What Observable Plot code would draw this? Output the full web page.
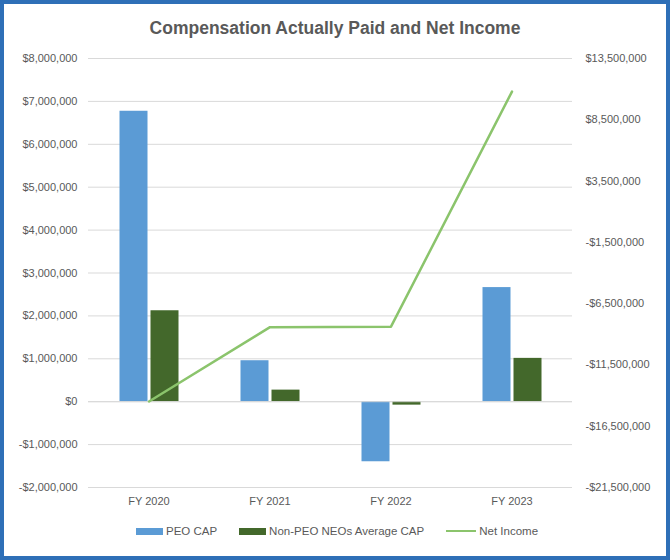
<!DOCTYPE html>
<html>
<head>
<meta charset="utf-8">
<script src="https://cdn.jsdelivr.net/npm/d3@7"></script>
<script src="https://cdn.jsdelivr.net/npm/@observablehq/plot@0.6"></script>
<style>
  body { margin: 0; background: #fff; }
  #wrap { position: relative; width: 670px; height: 560px; overflow: hidden; background: #fff; font-family: "Liberation Sans", Arial, sans-serif; }
  #frame { position: absolute; left: 0; top: 0; width: 670px; height: 560px; box-sizing: border-box; border: 4px solid #2E6FB7; pointer-events: none; }
  #title { position: absolute; top: 18px; left: 0; width: 670px; text-align: center; font-weight: bold; font-size: 17.5px; color: #595959; }
  #chart { position: absolute; left: 0; top: 0; }
  #legend { position: absolute; top: 525px; left: 0; width: 670px; display: flex; justify-content: center; gap: 22px; font-size: 11.5px; color: #595959; padding-left: 4px; box-sizing: border-box; }
  .item { display: flex; align-items: center; gap: 3px; }
  .sw { display: inline-block; width: 27px; height: 7px; }
  .ln { display: inline-block; width: 30px; height: 2.5px; }
</style>
</head>
<body>
<div id="wrap">
  <div id="chart"></div>
  <div id="title">Compensation Actually Paid and Net Income</div>
  <div id="legend"></div>
  <div id="frame"></div>
</div>
<script>
const years = ["FY 2020", "FY 2021", "FY 2022", "FY 2023"];
const peoCap = [6770000, 955000, -1400000, 2660000];
const nonPeoCap = [2120000, 270000, -80000, 1010000];
const netIncome = [-14480000, -8420000, -8380000, 10800000];
const leftTicks = [-2000000, -1000000, 0, 1000000, 2000000, 3000000, 4000000, 5000000, 6000000, 7000000, 8000000];
const rightTicks = [-21500000, -16500000, -11500000, -6500000, -1500000, 3500000, 8500000, 13500000];
const seriesNames = ["PEO CAP", "Non-PEO NEOs Average CAP", "Net Income"];
const colors = ["#5B9BD5", "#43682B", "#8BC46C"];

// map right axis domain [-21.5M, 13.5M] onto left axis domain [-2M, 8M]
const L0 = -2000000, L1 = 8000000, R0 = -21500000, R1 = 13500000;
const toLeft = v => L0 + (v - R0) * (L1 - L0) / (R1 - R0);
const fromLeft = v => R0 + (v - L0) * (R1 - R0) / (L1 - L0);
const money = v => (v < 0 ? "-" : "") + "$" + d3.format(",")(Math.abs(Math.round(v / 1000) * 1000));

const peoData = years.map((y, i) => ({year: y, value: peoCap[i]}));
const nonData = years.map((y, i) => ({year: y, value: nonPeoCap[i]}));
const niData = years.map((y, i) => ({year: y, value: toLeft(netIncome[i])}));

const chart = Plot.plot({
  width: 670,
  height: 515,
  marginTop: 58,
  marginBottom: 28,
  marginLeft: 88,
  marginRight: 98,
  style: {fontFamily: "Liberation Sans, Arial, sans-serif", fontSize: "11px", color: "#595959", background: "transparent"},
  x: {domain: years, padding: 0, label: null},
  y: {domain: [L0, L1], label: null},
  marks: [
    Plot.gridY(leftTicks, {stroke: "#D9D9D9", strokeOpacity: 1}),
    Plot.axisY(leftTicks, {tickSize: 0, tickPadding: 11, tickFormat: money, label: null, fill: "#595959"}),
    Plot.axisY(rightTicks.map(toLeft), {anchor: "right", tickSize: 0, tickPadding: 13, tickFormat: d => money(fromLeft(d)), label: null, fill: "#595959"}),
    Plot.axisX({tickSize: 0, tickPadding: 10, label: null, fill: "#595959"}),
    Plot.barY(peoData, {x: "year", y: "value", fill: colors[0], insetLeft: 31.5, insetRight: 61.5}),
    Plot.barY(nonData, {x: "year", y: "value", fill: colors[1], insetLeft: 62.5, insetRight: 30.5}),
    Plot.ruleY([0], {stroke: "#D9D9D9"}),
    Plot.line(niData, {x: "year", y: "value", stroke: colors[2], strokeWidth: 2.5})
  ]
});
document.getElementById("chart").appendChild(chart);

const legend = document.getElementById("legend");
seriesNames.forEach((name, i) => {
  const item = document.createElement("div");
  item.className = "item";
  const sw = document.createElement("span");
  sw.className = i === 2 ? "ln" : "sw";
  sw.style.background = colors[i];
  const t = document.createElement("span");
  t.textContent = name;
  item.appendChild(sw);
  item.appendChild(t);
  legend.appendChild(item);
});
</script>
</body>
</html>
